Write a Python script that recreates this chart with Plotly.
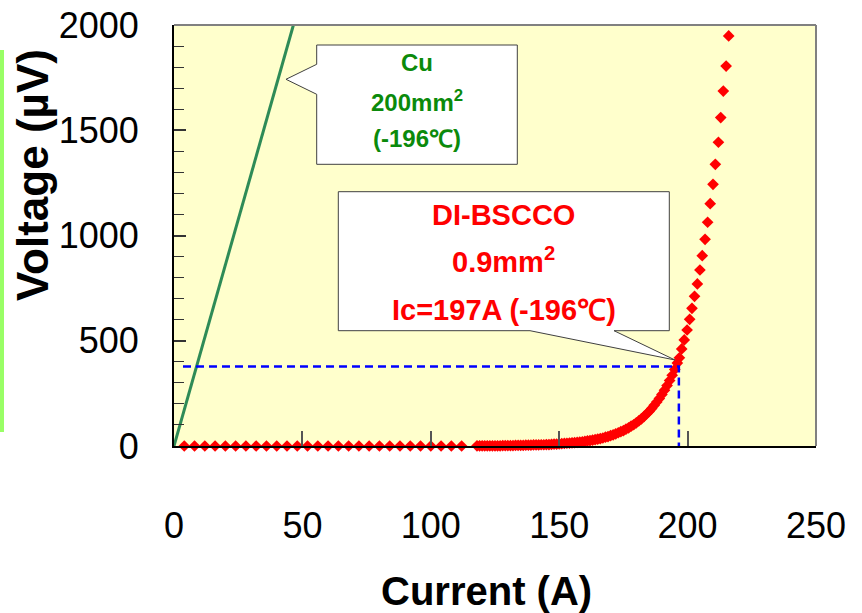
import plotly.graph_objects as go

# ---------------- data ----------------
cu_current = [0, 46.5]
cu_voltage = [0, 2000]

bscco_current_low = [4, 8, 12, 16, 20, 24, 28, 32, 36, 40, 44, 48, 52, 56,
                     60, 64, 68, 72, 76, 80, 84, 88, 92, 96, 100, 104, 108, 112]
bscco_voltage_low = [0, 0, 0, 0, 0, 0, 0, 0, 0, 0, 0, 0, 0, 0,
                     0, 0, 0, 0, 0, 0, 0, 0, 0, 0, 0, 0, 0, 0]

bscco_current_knee = [118, 119, 120, 121, 122, 123, 124, 125, 126, 127, 128, 129,
                      130, 131, 132, 133, 134, 135, 136, 137, 138, 139, 140, 141,
                      142, 143, 144, 145, 146, 147, 148, 149, 150, 151, 152, 153,
                      154, 155, 156, 157, 158, 159, 160, 161, 162, 163, 164, 165,
                      166, 167, 168, 169, 170, 171, 172, 173, 174, 175, 176, 177,
                      178, 179, 180, 181, 182, 183, 184, 185, 186, 187, 188, 189,
                      190, 191, 192, 193, 194, 195, 196]
bscco_voltage_knee = [1, 1, 1, 1, 1, 1, 1, 1, 1, 1, 2, 2,
                      2, 2, 2, 3, 3, 3, 3, 4, 4, 4, 5, 5,
                      5, 6, 6, 7, 7, 8, 9, 9, 10, 11, 12, 13,
                      14, 15, 16, 17, 19, 20, 22, 24, 26, 28, 30, 33,
                      35, 38, 42, 45, 49, 53, 58, 63, 68, 73, 80, 86,
                      94, 101, 110, 119, 129, 140, 152, 164, 178, 193, 209, 226,
                      245, 265, 287, 311, 336, 364, 394]

bscco_current_high = [196.8, 197.7, 198.7, 199.8, 200.8, 201.7, 202.7, 203.8, 204.8,
                      205.7, 206.8, 207.8, 208.8, 209.9, 210.8, 212.0, 212.9, 213.9,
                      215.0, 216.0]
bscco_voltage_high = [419, 461, 504, 551, 602, 654, 711, 770, 836,
                      904, 982, 1063, 1151, 1243, 1338, 1443, 1560, 1686,
                      1805, 1948]

ic_current = 196.6
ic_voltage = 378
ic_line_start = 3.5
ic_line_bottom = -20

x_ticks = [0, 50, 100, 150, 200, 250]
y_ticks = [0, 500, 1000, 1500, 2000]

# ---------------- layout geometry (pixels) ----------------
W, H = 862, 613
L, R, T, B = 174, 816, 25, 446
PW, PH = R - L, B - T


def px(x):
    return (x - L) / PW


def py(y):
    return (B - y) / PH


def path(points):
    s = "M " + " L ".join(f"{px(a):.5f},{py(b):.5f}" for a, b in points) + " Z"
    return s


FONT = "Liberation Sans, Arial, Helvetica, sans-serif"

fig = go.Figure()

fig.add_trace(go.Scatter(
    x=cu_current, y=cu_voltage, mode="lines",
    line=dict(color="#2e8b57", width=3), showlegend=False, hoverinfo="skip"))

red_x = bscco_current_low + bscco_current_knee + bscco_current_high
red_y = bscco_voltage_low + bscco_voltage_knee + bscco_voltage_high
fig.add_trace(go.Scatter(
    x=red_x, y=red_y, mode="markers",
    marker=dict(symbol="diamond", size=9, color="#ff0000", line=dict(width=0)),
    cliponaxis=False, showlegend=False))

fig.add_trace(go.Scatter(
    x=[ic_line_start, ic_current, ic_current],
    y=[ic_voltage, ic_voltage, ic_line_bottom], mode="lines",
    line=dict(color="#0000ff", width=2.5, dash="8px,5px"),
    cliponaxis=False, showlegend=False))

shapes = [
    # green strip at far left
    dict(type="rect", xref="paper", yref="paper", x0=px(0), x1=px(4),
         y0=py(432), y1=py(50), fillcolor="#99ff66", line=dict(width=0)),
    # top and right borders
    dict(type="line", xref="paper", yref="paper", x0=0, x1=1, y0=1, y1=1,
         line=dict(color="#808080", width=2)),
    dict(type="line", xref="paper", yref="paper", x0=1, x1=1, y0=0, y1=1,
         line=dict(color="#808080", width=2)),
    # Cu callout
    dict(type="path", xref="paper", yref="paper",
         path=path([(316.7, 45), (517.3, 45), (517.3, 164.3), (316.7, 164.3),
                    (316.7, 94.3), (286, 79.3), (316.7, 64.3)]),
         fillcolor="white", line=dict(color="#404040", width=1)),
    # DI-BSCCO callout
    dict(type="path", xref="paper", yref="paper",
         path=path([(338.3, 191.7), (669.3, 191.7), (669.3, 330.7), (614, 330.7),
                    (675, 360), (530, 330.7), (338.3, 330.7)]),
         fillcolor="white", line=dict(color="#404040", width=1)),
]


def ann(text, x, y, size, color, angle=0, bold=True, family=FONT):
    return dict(text=f"<b>{text}</b>" if bold else text, xref="paper", yref="paper",
                x=px(x), y=py(y), xanchor="center", yanchor="middle",
                showarrow=False, textangle=angle,
                font=dict(family=family, size=size, color=color))


GREEN = "#0b8a0b"
annotations = [
    ann("Cu", 417, 63, 24, GREEN),
    ann("200mm<sup>2</sup>", 417, 101, 24, GREEN),
    ann("(-196℃)", 417, 138, 24, GREEN),
    ann("DI-BSCCO", 504, 215, 29, "#ff0000"),
    ann("0.9mm<sup>2</sup>", 504, 260, 29, "#ff0000"),
    ann("Ic=197A (-196℃)", 504, 310, 29, "#ff0000"),
    ann("Voltage (µV)", 33, 175, 44, "black", angle=-90),
    ann("Current (A)", 486, 591, 40, "black"),
]

fig.update_layout(
    template="none",
    width=W, height=H,
    margin=dict(l=L, r=W - R, t=T, b=H - B, pad=0, autoexpand=False),
    paper_bgcolor="white", plot_bgcolor="#ffffcc",
    shapes=shapes, annotations=annotations, showlegend=False,
    font=dict(family=FONT, color="black"),
)
fig.update_xaxes(
    automargin=False,
    range=[0, 250], tickvals=x_ticks, ticktext=[str(v) for v in x_ticks],
    ticks="inside", ticklen=15, tickwidth=1.5, tickcolor="#555555",
    showline=True, linecolor="black", linewidth=2, showgrid=False, zeroline=False,
    tickfont=dict(size=36, family=FONT, color="black"), ticklabelstandoff=47)
fig.update_yaxes(
    automargin=False,
    range=[0, 2000], tickvals=y_ticks, ticktext=[str(v) for v in y_ticks],
    ticks="inside", ticklen=12, tickwidth=1.5, tickcolor="#333333",
    minor=dict(dtick=100, ticks="inside", ticklen=10, tickwidth=1.2, tickcolor="#333333"),
    showline=True, linecolor="black", linewidth=2, showgrid=False, zeroline=False,
    tickfont=dict(size=36, family=FONT, color="black"), ticklabelstandoff=26)

fig.write_html("out.html", config={"displayModeBar": False},
               post_script="document.body.style.margin='0';document.body.style.padding='0';")
